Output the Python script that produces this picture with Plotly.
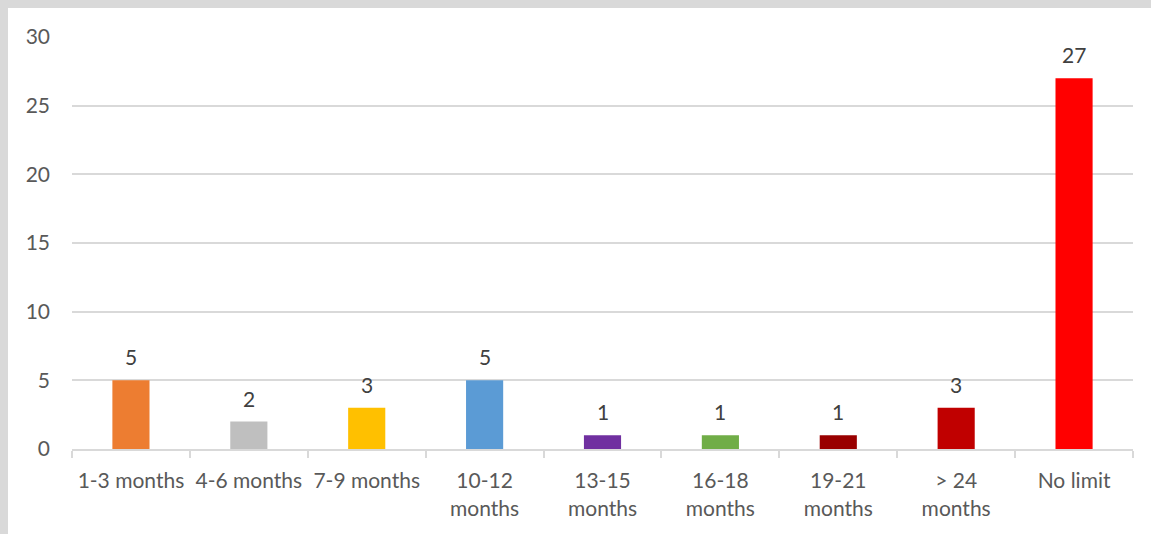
import plotly.graph_objects as go

categories = ["1-3 months", "4-6 months", "7-9 months", "10-12<br>months", "13-15<br>months",
              "16-18<br>months", "19-21<br>months", "> 24<br>months", "No limit"]
values = [5, 2, 3, 5, 1, 1, 1, 3, 27]
colors = ["#ED7D31", "#BFBFBF", "#FFC000", "#5B9BD5", "#7030A0",
          "#70AD47", "#990000", "#C00000", "#FF0000"]
y_ticks = [0, 5, 10, 15, 20, 25, 30]

FONT = "Lato, Open Sans, sans-serif"
W, H = 1143, 526
L, R, T, B = 64, 18, 29, 85

fig = go.Figure(go.Bar(x=categories, y=values, marker=dict(color=colors, line=dict(width=0)),
                       width=0.315, hoverinfo="x+y"))

for c, v in zip(categories, values):
    fig.add_annotation(x=c, y=v, text=str(v), showarrow=False, yanchor="bottom", yshift=9,
                       font=dict(family=FONT, size=21, color="#404040"))

fig.update_layout(
    width=W, height=H, margin=dict(l=L, r=R, t=T, b=B),
    paper_bgcolor="white", plot_bgcolor="white", showlegend=False,
    font=dict(family=FONT, size=21, color="#595959"),
    xaxis=dict(type="category", tickson="boundaries", ticks="outside", ticklen=7,
               tickcolor="#D9D9D9", tickwidth=2, showline=True, linecolor="#D9D9D9", linewidth=2,
               showgrid=False, ticklabelstandoff=12,
               tickfont=dict(family=FONT, size=21, color="#595959")),
    yaxis=dict(range=[0, 30], tickvals=y_ticks, showgrid=True, gridcolor="#D9D9D9", gridwidth=1.5,
               zeroline=False, showline=False, ticks="", ticklabelstandoff=21,
               tickfont=dict(family=FONT, size=21, color="#595959")),
)

fig.write_html("out.html", post_script=(
    "document.body.style.background='#D9D9D9';"
    "document.body.style.margin='8px 0 0 8px';"
    "document.body.style.overflow='hidden';"))
